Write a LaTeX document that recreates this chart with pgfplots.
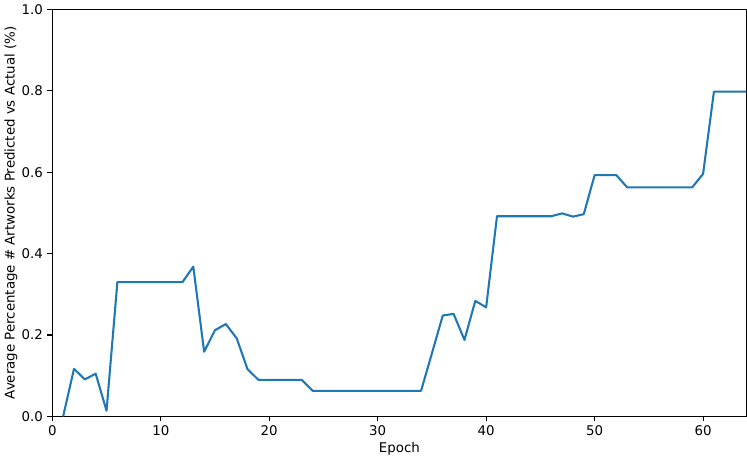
\documentclass[border=0pt]{standalone}
\usepackage{fontspec}
\setmainfont{DejaVu Sans}
\usepackage{pgfplots}
\pgfplotsset{compat=1.18}
\definecolor{mplblue}{HTML}{1F77B4}
\begin{document}
\fontsize{13.4}{16}\selectfont
\begin{tikzpicture}
\begin{axis}[
  scale only axis,
  width=696pt, height=408pt,
  xmin=0, xmax=64, ymin=0, ymax=1,
  xtick={0,10,20,30,40,50,60},
  ytick={0,0.2,0.4,0.6,0.8,1.0},
  yticklabel style={/pgf/number format/.cd,fixed,fixed zerofill,precision=1},
  /pgf/number format/assume math mode=true,
  tick align=outside,
  major tick length=4.9pt,
  xtick pos=bottom, ytick pos=left,
  tick style={black, line width=1.1pt},
  axis line style={line width=1.1pt},
  every tick label/.append style={font=\fontsize{13.4}{16}\selectfont},
  label style={font=\fontsize{13.4}{16}\selectfont},
  xlabel={Epoch},
  ylabel={Average Percentage \# Artworks Predicted vs Actual (\%)},
  xlabel style={yshift=3pt},
  ylabel style={yshift=-5pt},
]
\addplot[mplblue, line width=2.08pt, line join=round] coordinates {
(1,0) (2,0.117) (3,0.091) (4,0.105) (5,0.014) (6,0.330) (7,0.330) (8,0.330)
(9,0.330) (10,0.330) (11,0.330) (12,0.330) (13,0.368) (14,0.159) (15,0.212)
(16,0.227) (17,0.192) (18,0.116) (19,0.090) (20,0.090) (21,0.090) (22,0.090)
(23,0.090) (24,0.063) (25,0.063) (26,0.063) (27,0.063) (28,0.063) (29,0.063)
(30,0.063) (31,0.063) (32,0.063) (33,0.063) (34,0.063) (35,0.155) (36,0.248)
(37,0.252) (38,0.188) (39,0.284) (40,0.268) (41,0.492) (42,0.492) (43,0.492)
(44,0.492) (45,0.492) (46,0.492) (47,0.499) (48,0.491) (49,0.497) (50,0.593)
(51,0.593) (52,0.593) (53,0.563) (54,0.563) (55,0.563) (56,0.563) (57,0.563)
(58,0.563) (59,0.563) (60,0.596) (61,0.798) (62,0.798) (63,0.798) (64,0.798)
};
\end{axis}
\end{tikzpicture}
\end{document}
